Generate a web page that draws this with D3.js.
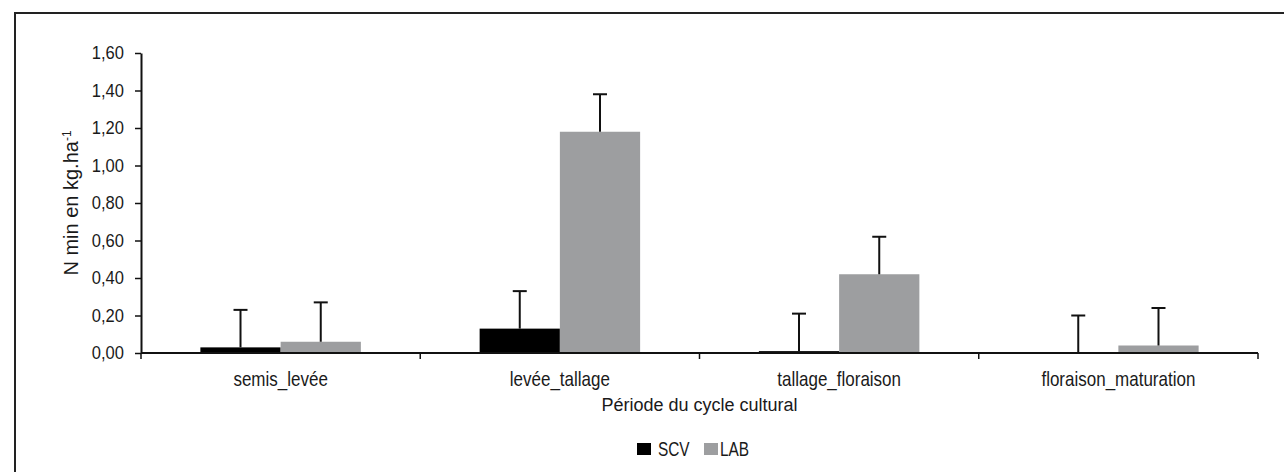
<!DOCTYPE html>
<html>
<head>
<meta charset="utf-8">
<script src="https://cdn.jsdelivr.net/npm/d3@7"></script>
<style>
  body { margin: 0; background: #fff; }
  svg text { fill: #1a1a1a; font-family: "Liberation Sans", Arial, sans-serif; }
</style>
</head>
<body>
<div id="chart"></div>
<script>
// data
var periods = ["semis_levée", "levée_tallage", "tallage_floraison", "floraison_maturation"];
var seriesNames = ["SCV", "LAB"];
var scvValues = [0.03, 0.13, 0.01, 0.00];
var labValues = [0.06, 1.18, 0.42, 0.04];
var scvErrors = [0.20, 0.20, 0.20, 0.20];
var labErrors = [0.21, 0.20, 0.20, 0.20];
var yTicks = [0, 0.2, 0.4, 0.6, 0.8, 1.0, 1.2, 1.4, 1.6];
var colors = {"SCV": "#000000", "LAB": "#9d9ea0"};

var rows = periods.map(function(p, i){
  return {period: p, values: [
    {name: "SCV", value: scvValues[i], err: scvErrors[i]},
    {name: "LAB", value: labValues[i], err: labErrors[i]}
  ]};
});

//
// setup
//
var W = 1284, H = 472;
var margin = {top: 53, left: 141, right: 26, bottom: 119};
var width = W - margin.left - margin.right,
    height = H - margin.top - margin.bottom;

var svg = d3.select("#chart").append("svg")
    .attr("width", W).attr("height", H);

// frame (top + left only)
svg.append("path")
  .attr("d", "M15,472 L15,13 L1284,13")
  .attr("fill", "none").attr("stroke", "#222").attr("stroke-width", 2);

var g = svg.append("g")
    .attr("transform", "translate(" + margin.left + "," + margin.top + ")");

var x0 = d3.scaleBand().domain(periods).range([0, width]).padding(0);
var x1 = d3.scaleBand().domain(seriesNames).range([0, x0.bandwidth()])
    .paddingInner(0).paddingOuter(0.74);
var y = d3.scaleLinear().domain([0, 1.6]).range([height, 0]);

var fr = d3.formatLocale({decimal: ",", thousands: " ", grouping: [3], currency: ["", " €"]});
var fmt = fr.format(".2f");

// squeeze text horizontally to imitate the condensed face of the original
function condense(sel, k){
  sel.each(function(){
    var t = d3.select(this),
        xx = +t.attr("x") || 0;
    t.attr("x", xx / k).attr("transform", "scale(" + k + ",1)");
  });
}

// y axis
var ya = g.append("g")
    .call(d3.axisLeft(y).tickValues(yTicks).tickFormat(fmt).tickSize(6).tickSizeOuter(0).tickPadding(11));
ya.select(".domain").attr("stroke", "#111").attr("stroke-width", 2);
ya.selectAll(".tick line").attr("stroke", "#111").attr("stroke-width", 1.5);
ya.selectAll("text").attr("font-size", 18).attr("font-family", null).attr("fill", "#1a1a1a")
  .call(condense, 0.92);

svg.append("text")
  .attr("transform", "translate(78," + (margin.top + height / 2) + ") rotate(-90)")
  .attr("text-anchor", "middle")
  .attr("font-size", 20)
  .text("N min en kg.ha")
  .append("tspan").attr("baseline-shift", "super").attr("font-size", 12).text("-1");

// bars
var groups = g.selectAll("g.period")
  .data(rows).enter().append("g")
    .attr("class", "period")
    .attr("transform", function(d){ return "translate(" + x0(d.period) + ",0)"; });

groups.selectAll("rect")
  .data(function(d){ return d.values; }).enter().append("rect")
    .attr("x", function(d){ return x1(d.name); })
    .attr("width", x1.bandwidth())
    .attr("y", function(d){ return y(d.value); })
    .attr("height", function(d){ return height - y(d.value); })
    .attr("fill", function(d){ return colors[d.name]; });

// error bars (upper only)
var eb = groups.selectAll("g.err")
  .data(function(d){ return d.values; }).enter().append("g")
    .attr("class", "err")
    .attr("stroke", "#111").attr("stroke-width", 2);
eb.append("line")
  .attr("x1", function(d){ return x1(d.name) + x1.bandwidth() / 2; })
  .attr("x2", function(d){ return x1(d.name) + x1.bandwidth() / 2; })
  .attr("y1", function(d){ return y(d.value); })
  .attr("y2", function(d){ return y(d.value + d.err); });
eb.append("line")
  .attr("x1", function(d){ return x1(d.name) + x1.bandwidth() / 2 - 7; })
  .attr("x2", function(d){ return x1(d.name) + x1.bandwidth() / 2 + 7; })
  .attr("y1", function(d){ return y(d.value + d.err); })
  .attr("y2", function(d){ return y(d.value + d.err); });

// x axis: labels centred, ticks on category boundaries
var xa = g.append("g")
    .attr("transform", "translate(0," + height + ")")
    .call(d3.axisBottom(x0).tickSize(0).tickPadding(19));
xa.select(".domain").remove();
xa.selectAll("text").attr("font-size", 20).attr("font-family", null).attr("fill", "#1a1a1a")
  .call(condense, 0.85);

var bounds = periods.map(function(p){ return x0(p); }).concat([width]);
var xl = g.append("g").attr("transform", "translate(0," + height + ")");
xl.append("line").attr("x1", 0).attr("x2", width).attr("y1", 0).attr("y2", 0)
  .attr("stroke", "#111").attr("stroke-width", 2);
xl.selectAll("line.bt").data(bounds).enter().append("line")
  .attr("class", "bt")
  .attr("x1", function(d){ return d; }).attr("x2", function(d){ return d; })
  .attr("y1", 0).attr("y2", 6)
  .attr("stroke", "#111").attr("stroke-width", 1.5);

svg.append("text")
  .attr("x", margin.left + width / 2)
  .attr("y", 411)
  .attr("text-anchor", "middle")
  .attr("font-size", 18)
  .text("Période du cycle cultural");

// legend
var legend = svg.append("g")
  .attr("transform", "translate(637,443)");
var li = legend.selectAll("g").data(seriesNames).enter().append("g")
  .attr("transform", function(d, i){ return "translate(" + (i * 67) + ",0)"; });
li.append("rect").attr("width", 14).attr("height", 12)
  .attr("fill", function(d){ return colors[d]; });
li.append("text").attr("x", function(d, i){ return i ? 16 : 21; }).attr("y", 13).attr("font-size", 20)
  .text(function(d){ return d; })
  .call(condense, 0.77);
</script>
</body>
</html>
